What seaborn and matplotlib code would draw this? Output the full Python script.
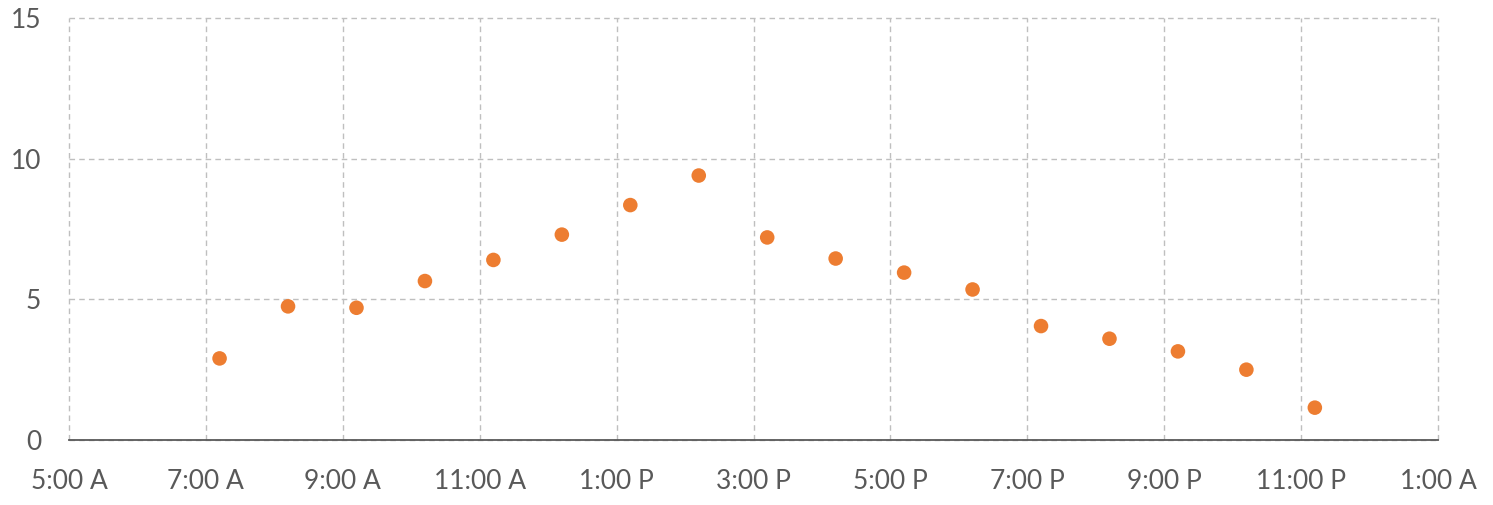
import matplotlib
matplotlib.use("Agg")
import matplotlib.pyplot as plt
import pandas as pd
import seaborn as sns

# readings, time of day (24h) and value
times = ["07:12", "08:12", "09:12", "10:12", "11:12", "12:12", "13:12", "14:12",
         "15:12", "16:12", "17:12", "18:12", "19:12", "20:12", "21:12", "22:12", "23:12"]
values = [2.9, 4.75, 4.7, 5.65, 6.4, 7.3, 8.35, 9.4,
          7.2, 6.45, 5.95, 5.35, 4.05, 3.6, 3.15, 2.5, 1.15]

tick_hours = [5, 7, 9, 11, 13, 15, 17, 19, 21, 23, 25]
tick_labels = ["5:00 A", "7:00 A", "9:00 A", "11:00 A", "1:00 P", "3:00 P",
               "5:00 P", "7:00 P", "9:00 P", "11:00 P", "1:00 A"]
y_ticks = [0, 5, 10, 15]


def to_hours(t: str) -> float:
    h, m = t.split(":")
    return int(h) + int(m) / 60


df = pd.DataFrame({"hour": [to_hours(t) for t in times], "value": values})

sns.set_style("white")
plt.rcParams["font.family"] = ["Lato", "DejaVu Sans"]

fig = plt.figure(figsize=(14.93, 5.05), dpi=100)
ax = fig.add_axes([0.0462, 0.1287, 0.9170, 0.8357])

sns.scatterplot(data=df, x="hour", y="value", ax=ax, color="#ED7D31",
                s=110, edgecolor="none", zorder=3)

ax.set_xlim(5, 25)
ax.set_ylim(0, 15)
ax.set_xticks(tick_hours)
ax.set_xticklabels(tick_labels)
ax.set_yticks(y_ticks)
ax.set_xlabel("")
ax.set_ylabel("")

ax.grid(True, color="#bfbfbf", linestyle=(0, (4, 3)), linewidth=1.0)
for gl in ax.get_xgridlines() + ax.get_ygridlines():
    gl.set_clip_on(False)
ax.set_axisbelow(True)
for side in ["top", "right", "left"]:
    ax.spines[side].set_visible(False)
ax.spines["bottom"].set_color("#595959")
ax.spines["bottom"].set_linewidth(1.3)

ax.tick_params(axis="x", direction="in", length=6, width=1.3, color="#595959",
               labelsize=19, labelcolor="#595959", pad=21)
ax.tick_params(axis="y", length=0, labelsize=19, labelcolor="#595959", pad=20)

fig.savefig("out.png", dpi=100)
plt.close(fig)
